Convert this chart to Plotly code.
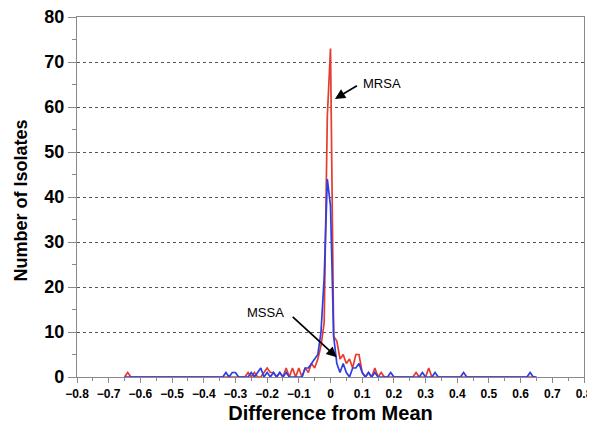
import plotly.graph_objects as go

# x positions (difference from mean), step 0.01 from -0.65 to 0.65
x_vals = [round(-0.65 + 0.01 * i, 2) for i in range(131)]

# MRSA counts (red)
mrsa = (
    [0, 1] + [0] * 30 +                       # -0.65 .. -0.34
    [0, 0, 0, 0, 0, 0, 0, 1, 0, 1, 0, 0, 1, 2, 1, 1, 0, 1, 0, 2, 0, 2, 0, 2, 0,  # -0.33 .. -0.09
     2, 1, 3, 2, 4, 7, 12, 58,               # -0.08 .. -0.01
     73,                                      # 0.00
     9, 8, 4, 5, 3, 4, 2, 5, 5, 1, 0, 1, 0, 2, 0, 1, 0, 0, 0, 0,  # 0.01 .. 0.20
     0, 0, 0, 0, 0, 0, 1, 0, 0, 0, 2, 0, 0, 0,  # 0.21 .. 0.34
     0, 0, 0, 0, 0, 0, 0, 0,                  # 0.35 .. 0.42
     ] + [0] * 23                             # 0.43 .. 0.65
)

# MSSA counts (blue)
mssa = (
    [0, 0] + [0] * 30 +                       # -0.65 .. -0.34
    [1, 0, 1, 1, 0, 0, 0, 0, 1, 0, 1, 2, 0, 1, 0, 1, 0, 1, 0, 1, 0, 0, 0, 0, 0,  # -0.33 .. -0.09
     2, 2, 3, 4, 5, 10, 22, 44,              # -0.08 .. -0.01
     38,                                      # 0.00
     9, 3, 1, 3, 1, 0, 2, 2, 3, 1, 0, 1, 0, 1, 0, 0, 0, 0, 1, 0,  # 0.01 .. 0.20
     0, 0, 0, 0, 0, 0, 0, 0, 1, 0, 0, 0, 1, 0,  # 0.21 .. 0.34
     0, 0, 0, 0, 0, 0, 0, 1,                  # 0.35 .. 0.42
     ] + [0] * 20 + [1, 0, 0]                 # 0.43 .. 0.65
)

x_ticks = [-0.8, -0.7, -0.6, -0.5, -0.4, -0.3, -0.2, -0.1, 0, 0.1, 0.2, 0.3, 0.4, 0.5, 0.6, 0.7, 0.8]
y_ticks = [0, 10, 20, 30, 40, 50, 60, 70, 80]

FONT = "Liberation Sans, Arial, Helvetica, sans-serif"

fig = go.Figure()
fig.add_trace(go.Scatter(x=x_vals, y=mrsa, mode="lines", name="MRSA",
                         line=dict(color="#e63b2e", width=1.7)))
fig.add_trace(go.Scatter(x=x_vals, y=mssa, mode="lines", name="MSSA",
                         line=dict(color="#2b3fe6", width=1.7)))

# page body adds an 8px offset; margins compensate so the plot box lands at 77..584 x 17..377
fig.update_layout(
    width=595, height=431,
    margin=dict(l=69, r=19, t=9, b=62),
    paper_bgcolor="white", plot_bgcolor="white",
    showlegend=False,
    font=dict(family=FONT, color="black"),
)

fig.update_xaxes(
    range=[-0.8, 0.8], tickvals=x_ticks,
    ticktext=[("−" if v < 0 else "") + (f"{abs(v):g}") for v in x_ticks],
    showgrid=False, zeroline=False, automargin=False, ticklabeloverflow="allow",
    showline=True, linecolor="#8a8a8a", linewidth=1.2, mirror=True,
    ticks="outside", ticklen=5, tickcolor="#8a8a8a",
    minor=dict(dtick=0.05, tick0=0, ticks="outside", ticklen=3, tickcolor="#8a8a8a"),
    tickfont=dict(size=12, weight="bold", family=FONT),
    title=dict(text="Difference from Mean", font=dict(size=20, weight="bold", family=FONT), standoff=6),
)
fig.update_yaxes(
    range=[0, 80], tickvals=y_ticks,
    showgrid=True, gridcolor="#555555", griddash="dot", gridwidth=1,
    zeroline=False, automargin=False, ticklabeloverflow="allow",
    showline=True, linecolor="#8a8a8a", linewidth=1.2, mirror=True,
    ticks="outside", ticklen=8, tickcolor="#8a8a8a",
    minor=dict(dtick=5, tick0=0, ticks="outside", ticklen=4, tickcolor="#8a8a8a", showgrid=False),
    tickfont=dict(size=18, weight="bold", family=FONT),
)

# y-axis title placed as rotated text
fig.add_annotation(xref="paper", yref="paper", x=-0.1105, y=0.49, text="Number of Isolates",
                   textangle=-90, showarrow=False, xanchor="center", yanchor="middle",
                   font=dict(size=18, weight="bold", family=FONT, color="black"))

# MRSA label and arrow
fig.add_annotation(x=0.014, y=61.8, ax=25, ay=-15, text=" ", showarrow=True,
                   arrowhead=2, arrowsize=1.2, arrowwidth=1.7, arrowcolor="black")
fig.add_annotation(x=0.161, y=65.2, text="MRSA", showarrow=False, xanchor="center", yanchor="middle",
                   font=dict(size=13, family=FONT, color="black"))
# MSSA label and arrow
fig.add_annotation(x=0.0196, y=4.4, ax=-47, ay=-43, text=" ", showarrow=True,
                   arrowhead=2, arrowsize=1.2, arrowwidth=1.7, arrowcolor="black")
fig.add_annotation(x=-0.204, y=14.4, text="MSSA", showarrow=False, xanchor="center", yanchor="middle",
                   font=dict(size=13, family=FONT, color="black"))

fig.write_html("out.html")
